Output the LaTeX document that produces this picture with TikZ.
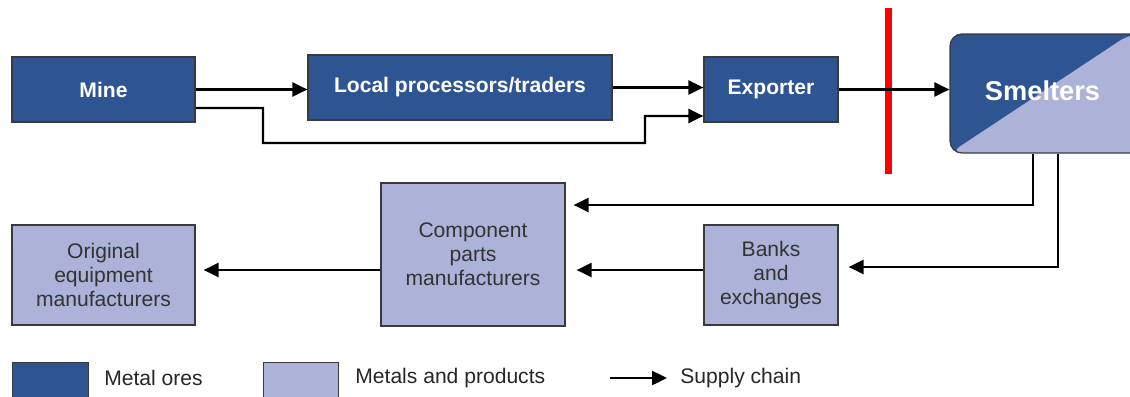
\documentclass[tikz,border=0pt]{standalone}
\usepackage{fontspec}
\setmainfont{Liberation Sans}
\usetikzlibrary{arrows.meta}

\definecolor{oreblue}{HTML}{2E5591}
\definecolor{metallight}{HTML}{ADB3D8}
\definecolor{boxedge}{HTML}{3A3A3A}
\definecolor{labelgray}{HTML}{333333}

\tikzset{
    ore/.style = {draw=boxedge, line width=0.7pt, fill=oreblue, text=white,
        font=\bfseries\fontsize{12}{14}\selectfont, inner sep=0pt},
    metal/.style = {draw=boxedge, line width=0.7pt, fill=metallight, text=labelgray,
        font=\fontsize{12}{13.7}\selectfont, align=center, inner sep=0pt},
    flow/.style = {line width=1.4pt, -{Triangle[length=0.3cm, width=0.28cm]}},
    keytext/.style = {anchor=west, inner sep=0pt, text=black!85,
        font=\fontsize{12}{14}\selectfont},
}

\begin{document}
\begin{tikzpicture}[x=0.02cm, y=-0.02cm]
    \useasboundingbox (0,0) rectangle (1130,396);

    \node[ore, minimum width=3.66cm, minimum height=1.3cm] (mine) at (103.5,89.5) {Mine};
    \node[ore, minimum width=6.08cm, minimum height=1.3cm] (local) at (460,87.5) {Local processors/traders};
    \node[ore, minimum width=2.68cm, minimum height=1.3cm] (exporter) at (771,89.5) {Exporter};
    \node[draw=boxedge, line width=0.7pt, fill=oreblue, rounded corners=0.24cm,
        minimum width=4cm, minimum height=2.38cm, inner sep=0pt,
        text=white, font=\bfseries\fontsize{15.5}{18}\selectfont,
        path picture={\fill[metallight] (path picture bounding box.south west)
            -- ([xshift=-0.4cm]path picture bounding box.north east)
            -- (path picture bounding box.north east)
            -- (path picture bounding box.south east) -- cycle;}]
        (smelters) at (1050,93.5) {\raisebox{0.1cm}{Smelters}\hspace*{0.3cm}};

    \node[metal, minimum width=3.68cm, minimum height=2.86cm] (component) at (473,254.5)
        {Component\\parts\\manufacturers};
    \node[metal, minimum width=3.66cm, minimum height=2cm] (oem) at (103.5,275)
        {Original\\equipment\\manufacturers};
    \node[metal, minimum width=2.68cm, minimum height=2cm] (banks) at (771,275)
        {Banks\\and\\exchanges};

    \draw[red, line width=0.14cm] (888,8) -- (888,174);

    \draw[flow] (mine.east) -- (mine.east -| local.west);
    \draw[flow] ([yshift=-0.37cm]mine.east) -| (263,143) -| (645,116)
        -- ([yshift=-0.53cm]exporter.west);
    \draw[flow] (local.east) -- (local.east -| exporter.west);
    \draw[flow] (exporter.east) -- (exporter.east -| smelters.west);
    \draw[flow, shorten >=0.16cm] ([xshift=-0.34cm]smelters.south) |- (component.east |- 0,205);
    \draw[flow, shorten >=0.2cm] ([xshift=0.16cm]smelters.south) |- (banks.east |- 0,267);
    \draw[flow, shorten >=0.22cm] (banks.west |- 0,270) -- (component.east |- 0,270);
    \draw[flow, shorten >=0.16cm] (component.west |- 0,270) -- (oem.east |- 0,270);

    \node[ore, minimum width=1.52cm, minimum height=0.76cm, anchor=north west] (orekey) at (12,362) {};
    \node[keytext] (oretext) at (104,378) {Metal ores};
    \node[metal, minimum width=1.5cm, minimum height=0.76cm, anchor=north west] (metalkey) at (263,362) {};
    \node[keytext] (metaltext) at (355,378) {Metals and products};
    \coordinate (flowkey) at (610,378);
    \node[keytext] (flowtext) at (680,378) {Supply chain};
    \draw[flow] (flowkey) -- ([xshift=-0.26cm]flowtext.west);
\end{tikzpicture}
\end{document}
